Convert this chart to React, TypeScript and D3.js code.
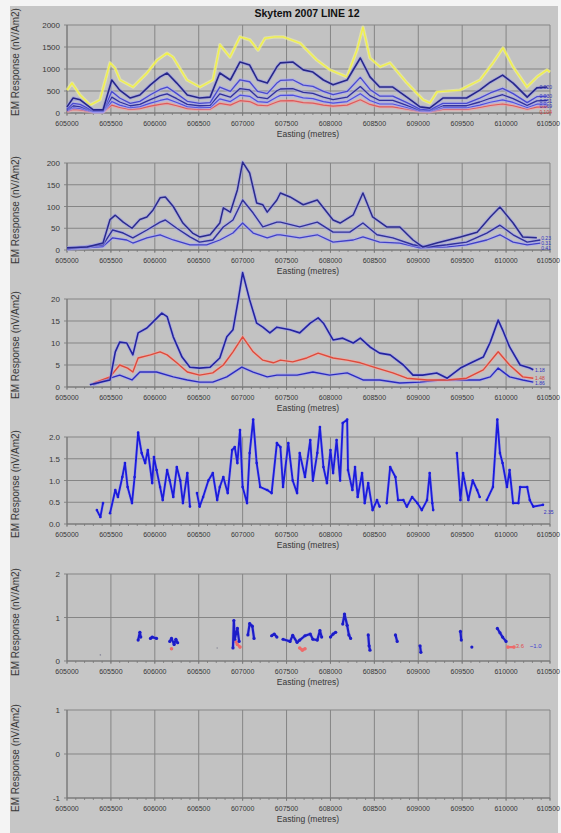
import React from "react";
import * as d3 from "d3";

const TITLE = "Skytem 2007 LINE 12";
const Y_TITLE = "EM Response (nV/Am2)";
const X_TITLE = "Easting (metres)";
const X_TICKS = [605000, 605500, 606000, 606500, 607000, 607500, 608000, 608500, 609000, 609500, 610000, 610500];

// Panel 1 (gate set 1)
const E1Y = [605000, 605057, 605148, 605262, 605376, 605490, 605547, 605604, 605752, 605911, 606025, 606139, 606207, 606366, 606514, 606662, 606742, 606856, 606970, 607084, 607175, 607255, 607369, 607460, 607653, 607847, 607995, 608188, 608302, 608370, 608450, 608564, 608678, 608872, 609054, 609134, 609213, 609475, 609703, 609851, 609965, 610079, 610238, 610352, 610466, 610500];
const YELLOW1 = [520, 680, 410, 180, 300, 1140, 1020, 750, 590, 910, 1200, 1360, 1270, 750, 590, 750, 1550, 1270, 1730, 1660, 1430, 1700, 1730, 1730, 1590, 1200, 980, 820, 1430, 1950, 1250, 1050, 1140, 680, 300, 230, 480, 520, 750, 1140, 1480, 1050, 590, 820, 980, 930];
const E1 = [605000, 605070, 605150, 605300, 605410, 605510, 605600, 605720, 605830, 605950, 606060, 606140, 606250, 606370, 606510, 606630, 606740, 606860, 606970, 607080, 607170, 607280, 607390, 607430, 607570, 607690, 607800, 607920, 608030, 608190, 608340, 608450, 608560, 608710, 608870, 609020, 609130, 609280, 609550, 609700, 609820, 609960, 610080, 610240, 610350, 610470];
const BLUE1A = [140, 340, 300, 70, 70, 750, 520, 340, 410, 640, 820, 910, 680, 410, 340, 360, 910, 750, 1160, 1090, 750, 680, 1050, 1140, 1160, 980, 930, 750, 640, 750, 1250, 820, 590, 590, 360, 140, 110, 340, 340, 520, 700, 860, 680, 360, 570, 590];
const BLUE1B = [90, 220, 195, 45, 45, 490, 340, 220, 265, 415, 535, 590, 440, 265, 220, 235, 590, 490, 755, 710, 490, 440, 680, 740, 755, 635, 605, 490, 415, 490, 810, 535, 385, 385, 235, 90, 70, 220, 220, 340, 455, 560, 440, 235, 370, 385];
const BLUE1C = [65, 165, 145, 35, 35, 360, 250, 165, 195, 305, 395, 435, 325, 195, 165, 175, 435, 360, 555, 525, 360, 325, 505, 545, 555, 470, 445, 360, 305, 360, 600, 395, 285, 285, 175, 65, 55, 165, 165, 250, 335, 415, 325, 175, 275, 285];
const BLUE1D = [50, 120, 105, 25, 25, 260, 180, 120, 145, 225, 285, 320, 240, 145, 120, 125, 320, 260, 405, 380, 260, 240, 365, 400, 405, 345, 325, 260, 225, 260, 440, 285, 205, 205, 125, 50, 40, 120, 120, 180, 245, 300, 240, 125, 200, 205];
const RED1 = [35, 80, 70, 20, 20, 180, 125, 80, 100, 155, 195, 220, 165, 100, 80, 85, 220, 180, 280, 260, 180, 165, 250, 275, 280, 235, 225, 180, 155, 180, 300, 195, 140, 140, 85, 35, 25, 80, 80, 125, 170, 205, 165, 85, 135, 140];
const LABELS1 = ["0.020", "0.030", "0.051", "0.069", "0.104"];

// Panel 2
const E2A = [605000, 605230, 605410, 605490, 605550, 605640, 605740, 605830, 605910, 605980, 606060, 606120, 606210, 606320, 606430, 606510, 606630, 606740, 606780, 606860, 606940, 607000, 607080, 607160, 607230, 607280, 607390, 607430, 607540, 607690, 607850, 608030, 608110, 608260, 608370, 608480, 608640, 608790, 608940, 609050, 609210, 609480, 609670, 609820, 609930, 610080, 610190, 610350];
const V2A = [5, 7, 16, 70, 80, 64, 50, 70, 76, 92, 120, 122, 100, 62, 39, 30, 35, 62, 97, 87, 138, 202, 177, 108, 104, 87, 115, 131, 122, 104, 115, 69, 62, 81, 131, 76, 53, 53, 23, 7, 16, 30, 41, 76, 99, 62, 30, 28];
const E2B = [605000, 605410, 605520, 605640, 605750, 605910, 606060, 606120, 606250, 606400, 606510, 606660, 606780, 606890, 607000, 607120, 607230, 607390, 607430, 607650, 607850, 608030, 608220, 608370, 608530, 608710, 608940, 609100, 609330, 609550, 609780, 609930, 610080, 610240, 610390];
const V2B = [3, 12, 46, 39, 28, 46, 64, 69, 50, 30, 18, 23, 53, 69, 115, 85, 53, 64, 64, 53, 64, 41, 41, 62, 35, 28, 12, 7, 12, 18, 39, 57, 35, 18, 23];
const E2C = [605000, 605410, 605520, 605680, 605750, 605910, 606060, 606210, 606400, 606590, 606740, 606890, 607000, 607120, 607280, 607390, 607430, 607650, 607850, 608030, 608260, 608370, 608560, 608790, 609020, 609330, 609550, 609780, 609930, 610080, 610240, 610390];
const V2C = [2, 8, 28, 23, 16, 28, 35, 23, 12, 12, 23, 39, 62, 39, 28, 35, 35, 28, 35, 18, 23, 30, 18, 16, 5, 7, 12, 23, 35, 18, 12, 16];
const LABELS2 = ["0.23", "0.31", "0.41"];

// Panel 3
const E3A = [605260, 605380, 605490, 605550, 605600, 605680, 605750, 605810, 605910, 605980, 606080, 606140, 606210, 606310, 606400, 606510, 606630, 606740, 606820, 606890, 606950, 607000, 607080, 607160, 607230, 607310, 607390, 607540, 607650, 607770, 607860, 607920, 608030, 608140, 608260, 608340, 608450, 608560, 608680, 608830, 608940, 609050, 609210, 609330, 609480, 609620, 609740, 609820, 609910, 609960, 610040, 610160, 610270, 610310];
const V3A = [0.5, 1.1, 1.6, 8, 10.2, 10, 7.3, 12.3, 13.4, 14.8, 16.8, 16, 11.4, 6.8, 4.5, 4.3, 4.5, 6.6, 11.4, 13, 19.8, 26, 19.8, 14.5, 13.6, 12.3, 13.6, 13, 12.3, 14.5, 15.7, 14.5, 10.7, 11.1, 10, 11.1, 9.1, 7.7, 7.3, 5, 2.7, 2.7, 3.2, 2, 4.3, 5.7, 6.8, 10.2, 15.2, 13, 9.1, 5, 4.3, 3.9];
const E3B = [605300, 605490, 605600, 605690, 605750, 605810, 605950, 606060, 606140, 606250, 606370, 606510, 606660, 606780, 606890, 607000, 607120, 607230, 607350, 607430, 607570, 607730, 607860, 608030, 608190, 608340, 608530, 608710, 608870, 609100, 609330, 609550, 609740, 609910, 610040, 610190, 610310];
const V3B = [0.9, 2.3, 5, 4.3, 3.4, 6.6, 7.3, 8, 7.3, 5.5, 3.4, 2.7, 3.2, 5, 8, 11.4, 8, 6.1, 5.5, 6.1, 5.7, 6.6, 7.7, 6.6, 6.1, 5.5, 4.3, 3.2, 2, 1.6, 1.6, 2, 3.9, 8, 5, 2.3, 2];
const E3C = [605300, 605490, 605600, 605740, 605830, 606020, 606210, 606370, 606510, 606660, 606820, 606990, 607120, 607280, 607390, 607430, 607620, 607800, 607990, 608190, 608370, 608560, 608790, 609020, 609250, 609480, 609700, 609820, 609910, 610040, 610190, 610310];
const V3C = [0.5, 2, 2.7, 1.6, 3.4, 3.4, 2.3, 1.6, 1.1, 1.1, 2.3, 4.5, 3.4, 2.3, 2.7, 2.7, 2.7, 3.4, 2.7, 3.2, 1.6, 1.6, 0.9, 1.1, 1.6, 1.6, 1.6, 2.3, 4.3, 2.3, 1.6, 1.1];
const LABELS3 = ["1.18", "1.48", "1.86"];

// Panel 4 (gaps = null)
const E4 = [605340, 605380, 605410, null, 605490, 605550, 605580, 605630, 605660, 605690, 605740, 605770, 605810, 605850, 605890, 605920, 605970, 605990, 606020, 606060, 606090, 606140, 606170, 606210, 606250, 606290, 606320, 606370, 606400, null, 606480, 606510, 606550, 606610, 606660, 606710, 606740, 606780, 606830, 606880, 606910, 606940, 606970, 607000, 607050, 607080, 607120, 607160, 607200, 607280, 607330, 607390, 607430, 607460, 607520, 607570, 607620, 607650, 607710, 607770, 607800, 607850, 607880, 607920, 607960, 608000, 608030, 608070, 608110, 608140, 608190, 608200, 608250, 608280, 608310, 608360, 608390, 608430, 608480, 608530, 608560, null, 608640, 608680, 608740, 608770, 608830, 608870, 608930, 608990, 609040, 609100, 609130, 609160, 609170, null, 609440, 609480, 609510, 609570, 609620, 609670, 609700, null, 609780, 609850, 609900, 609930, 609960, 610010, 610040, 610080, 610140, 610160, 610240, 610270, 610310, 610420];
const V4 = [0.32, 0.16, 0.48, null, 0.25, 0.78, 0.62, 1.08, 1.4, 0.85, 0.48, 1.08, 2.1, 1.63, 1.4, 1.7, 0.94, 1.54, 1.24, 0.85, 0.55, 1.24, 1.0, 0.62, 1.31, 1.0, 0.48, 1.17, 0.4, null, 0.71, 0.4, 0.62, 1.0, 1.17, 0.55, 0.85, 1.08, 0.71, 1.7, 1.77, 1.4, 2.16, 0.85, 0.48, 1.63, 2.4, 1.4, 0.85, 0.78, 0.71, 1.86, 1.77, 0.85, 1.86, 1.0, 0.71, 1.63, 1.08, 1.93, 1.0, 1.63, 2.23, 1.31, 0.94, 1.7, 1.17, 1.93, 1.0, 2.32, 2.4, 1.24, 0.78, 1.31, 0.62, 1.17, 0.48, 0.94, 0.32, 0.55, 0.4, null, 0.48, 1.31, 1.08, 0.55, 0.55, 0.4, 0.62, 0.48, 0.32, 0.55, 1.17, 0.48, 0.32, null, 1.63, 0.55, 1.17, 0.55, 1.0, 0.78, 0.62, null, 0.55, 0.85, 2.4, 1.63, 1.4, 0.85, 1.24, 0.48, 0.48, 0.85, 0.85, 0.55, 0.4, 0.44];
const LABEL4 = "2.35";

// Panel 5 (gaps = null)
const E5B = [605810, 605830, 605840, null, 605950, 605970, 606020, null, 606170, 606190, 606220, 606240, 606260, null, 606890, 606900, 606910, 606940, 606960, null, 607060, 607080, 607110, 607130, null, 607330, 607360, 607390, null, 607460, 607540, 607570, 607620, 607650, 607710, 607770, 607800, 607850, 607880, 607900, null, 608000, 608030, 608060, null, 608140, 608160, 608190, 608210, 608230, null, 608430, 608440, 608450, null, 608740, 608760, null, 609020, 609030, null, 609480, 609490, null, 609610, null, 609900, 609930, 609960, 610000];
const V5B = [0.48, 0.66, 0.55, null, 0.52, 0.55, 0.52, null, 0.45, 0.52, 0.38, 0.5, 0.42, null, 0.3, 0.93, 0.5, 0.75, 0.45, null, 0.6, 0.86, 0.8, 0.52, null, 0.58, 0.62, 0.55, null, 0.5, 0.45, 0.59, 0.43, 0.48, 0.58, 0.62, 0.5, 0.48, 0.7, 0.55, null, 0.55, 0.62, 0.66, null, 0.85, 1.08, 0.82, 0.6, 0.52, null, 0.6, 0.35, 0.25, null, 0.6, 0.45, null, 0.35, 0.2, null, 0.68, 0.48, null, 0.32, null, 0.75, 0.65, 0.55, 0.45];
const E5R = [606190, null, 606920, 606940, 606970, null, 607650, 607680, 607710, null, 610020, 610090];
const V5R = [0.28, null, 0.45, 0.38, 0.32, null, 0.3, 0.25, 0.28, null, 0.32, 0.32];
const E5G = [605380, null, 606710];
const V5G = [0.14, null, 0.3];
const LABEL5R = "3.6";
const LABEL5B = "~1.0";

const PANELS = [
  { top: 25, bottom: 113, domain: [0, 2000], ticks: [0, 500, 1000, 1500, 2000], fmt: (v: number) => String(v), ytc: 62 },
  { top: 163, bottom: 250, domain: [0, 200], ticks: [0, 50, 100, 150, 200], fmt: (v: number) => String(v), ytc: 210 },
  { top: 299, bottom: 387, domain: [0, 20], ticks: [0, 5, 10, 15, 20], fmt: (v: number) => String(v), ytc: 345 },
  { top: 437, bottom: 524, domain: [0, 2], ticks: [0, 0.5, 1, 1.5, 2], fmt: (v: number) => v.toFixed(1), ytc: 484 },
  { top: 574, bottom: 661, domain: [0, 2], ticks: [0, 1, 2], fmt: (v: number) => String(v), ytc: 622 },
  { top: 710, bottom: 798, domain: [-1, 1], ticks: [-1, 0, 1], fmt: (v: number) => String(v), ytc: 758 },
];

const FONT = "'Liberation Sans', Arial, sans-serif";
const xS = d3.scaleLinear().domain([605000, 610500]).range([67, 550]);

type Pt = [number | null, number | null];
const zip = (xs: (number | null)[], ys: (number | null)[]): Pt[] => xs.map((x, i) => [x, ys[i]]);

function Series({ xs, ys, y, color, width, halo, haloW, dots }: any) {
  const data = zip(xs, ys);
  const gen = d3
    .line<Pt>()
    .defined((d) => d[0] != null && d[1] != null)
    .x((d) => xS(d[0] as number))
    .y((d) => y(d[1] as number));
  const path = gen(data) || "";
  return (
    <g>
      {halo && <path d={path} fill="none" stroke={halo} strokeWidth={haloW || 3.5} strokeOpacity={0.55} strokeLinejoin="round" />}
      <path d={path} fill="none" stroke={color} strokeWidth={width} strokeLinejoin="round" />
      {dots &&
        data
          .filter((d) => d[0] != null && d[1] != null)
          .map((d, i) => <circle key={i} cx={xS(d[0] as number)} cy={y(d[1] as number)} r={dots} fill={color} />)}
    </g>
  );
}

function Panel({ p, children }: any) {
  const y = d3.scaleLinear().domain(p.domain).range([p.bottom, p.top]);
  const minor = d3.range(605000, 610501, 100);
  return (
    <g>
      <rect x={67} y={p.top} width={550 - 67} height={p.bottom - p.top} fill="#c2c2c2" />
      {p.ticks.map((t: number) => (
        <line key={"h" + t} x1={64} x2={550} y1={y(t)} y2={y(t)} stroke="#858585" strokeWidth={1} />
      ))}
      {X_TICKS.map((t) => (
        <line key={"v" + t} x1={xS(t)} x2={xS(t)} y1={p.top} y2={p.bottom + 3} stroke="#858585" strokeWidth={1} />
      ))}
      {minor.map((t) => (
        <line key={"m" + t} x1={xS(t)} x2={xS(t)} y1={p.bottom} y2={p.bottom + 2} stroke="#777" strokeWidth={0.8} />
      ))}
      <line x1={67} x2={550} y1={p.bottom} y2={p.bottom} stroke="#777" strokeWidth={1} />
      <line x1={67} x2={67} y1={p.top} y2={p.bottom} stroke="#777" strokeWidth={1} />
      {p.ticks.map((t: number) => (
        <text key={"yl" + t} x={60} y={y(t) + 3} textAnchor="end" fontSize={8} fill="#383838" fontFamily={FONT}>
          {p.fmt(t)}
        </text>
      ))}
      {X_TICKS.map((t, i) => {
        const lastTick = i === X_TICKS.length - 1;
        return (
          <text
            key={"xl" + t}
            x={lastTick ? 560 : xS(t)}
            y={p.bottom + 13}
            textAnchor={lastTick ? "end" : "middle"}
            fontSize={7}
            fill="#383838"
            fontFamily={FONT}
          >
            {String(t)}
          </text>
        );
      })}
      <text x={308} y={p.bottom + 24} textAnchor="middle" fontSize={8.5} fill="#383838" fontFamily={FONT}>
        {X_TITLE}
      </text>
      <text
        transform={`translate(19,${p.ytc}) rotate(-90)`}
        textAnchor="middle"
        fontSize={10}
        fill="#383838"
        fontFamily={FONT}
      >
        {Y_TITLE}
      </text>
      {children(y)}
    </g>
  );
}

// end-of-line labels, spread vertically so they don't collide
function EndLabels({ items, y, x }: any) {
  const pos = items.map((it: any) => y(it.v) + 2);
  const order = pos.map((_: number, i: number) => i).sort((a: number, b: number) => pos[a] - pos[b]);
  const placed: number[] = [];
  let prev = -Infinity;
  order.forEach((i: number) => {
    const p = Math.max(pos[i], prev + 5.2);
    placed[i] = p;
    prev = p;
  });
  return (
    <g>
      {items.map((it: any, i: number) => (
        <text key={i} x={x} y={placed[i]} fontSize={5} fill={it.color} fontFamily={FONT}>
          {it.text}
        </text>
      ))}
    </g>
  );
}

export default function App() {
  const W = 561;
  const H = 833;
  const last = (a: number[]) => a[a.length - 1];
  return (
    <svg width={W} height={H} style={{ position: "absolute", left: 0, top: 0, display: "block" }}>
      <defs>
        <filter id="soft" x="-5%" y="-5%" width="110%" height="110%">
          <feGaussianBlur stdDeviation="0.45" />
        </filter>
      </defs>
      <rect x={0} y={0} width={W} height={H} fill="#f4f4f4" />
      <rect x={10} y={6} width={W - 13} height={H - 6} fill="#c6c6c6" />
      <text x={307} y={17} textAnchor="middle" fontSize={10.5} fontWeight="bold" fill="#111" fontFamily={FONT}>
        {TITLE}
      </text>

      <Panel p={PANELS[0]}>
        {(y: any) => (
          <g>
            <g filter="url(#soft)">
              <Series xs={E1Y} ys={YELLOW1} y={y} color="#f2f24a" width={1.4} halo="#f6f6a0" haloW={3.5} />
              <Series xs={E1} ys={RED1} y={y} color="#e05a5a" width={1.2} halo="#f0a0a0" />
              <Series xs={E1} ys={BLUE1D} y={y} color="#5050e0" width={1.2} halo="#a8a8f4" />
              <Series xs={E1} ys={BLUE1C} y={y} color="#30309a" width={1.3} halo="#a0a0ee" />
              <Series xs={E1} ys={BLUE1B} y={y} color="#4848d0" width={1.3} halo="#a8a8f4" />
              <Series xs={E1} ys={BLUE1A} y={y} color="#28288a" width={1.6} halo="#9898e8" />
            </g>
            <EndLabels
              x={xS(610380)}
              y={y}
              items={[
                { text: LABELS1[0], v: last(BLUE1A), color: "#3030b0" },
                { text: LABELS1[1], v: last(BLUE1B), color: "#3030b0" },
                { text: LABELS1[2], v: last(BLUE1C), color: "#3030b0" },
                { text: LABELS1[3], v: last(BLUE1D), color: "#3030b0" },
                { text: LABELS1[4], v: last(RED1), color: "#d04040" },
              ]}
            />
          </g>
        )}
      </Panel>

      <Panel p={PANELS[1]}>
        {(y: any) => (
          <g>
            <g filter="url(#soft)">
              <Series xs={E2C} ys={V2C} y={y} color="#4040c8" width={1.3} halo="#a8a8f4" />
              <Series xs={E2B} ys={V2B} y={y} color="#30309a" width={1.4} halo="#a0a0ee" />
              <Series xs={E2A} ys={V2A} y={y} color="#2a2a8e" width={1.5} halo="#9a9ae8" />
            </g>
            <EndLabels
              x={xS(610400)}
              y={y}
              items={[
                { text: LABELS2[0], v: last(V2A), color: "#3030c0" },
                { text: LABELS2[1], v: last(V2B), color: "#3030c0" },
                { text: LABELS2[2], v: last(V2C), color: "#3030c0" },
              ]}
            />
          </g>
        )}
      </Panel>

      <Panel p={PANELS[2]}>
        {(y: any) => (
          <g>
            <g filter="url(#soft)">
              <Series xs={E3C} ys={V3C} y={y} color="#2c2cc0" width={1.4} halo="#a0a0f0" />
              <Series xs={E3B} ys={V3B} y={y} color="#e04a3a" width={1.4} halo="#f4a8a0" />
              <Series xs={E3A} ys={V3A} y={y} color="#2424a0" width={1.6} halo="#9c9cec" />
            </g>
            <EndLabels
              x={xS(610330)}
              y={y}
              items={[
                { text: LABELS3[0], v: last(V3A), color: "#3030c0" },
                { text: LABELS3[1], v: last(V3B), color: "#d04040" },
                { text: LABELS3[2], v: last(V3C), color: "#3030c0" },
              ]}
            />
          </g>
        )}
      </Panel>

      <Panel p={PANELS[3]}>
        {(y: any) => (
          <g>
            <g filter="url(#soft)">
              <Series xs={E4} ys={V4} y={y} color="#1a1adc" width={1.8} halo="#8c8cf0" haloW={3} dots={1.3} />
            </g>
            <text x={xS(610430)} y={y(0.22)} fontSize={5} fill="#3030c0" fontFamily={FONT}>
              {LABEL4}
            </text>
          </g>
        )}
      </Panel>

      <Panel p={PANELS[4]}>
        {(y: any) => (
          <g>
            <g filter="url(#soft)">
              <Series xs={E5G} ys={V5G} y={y} color="#8a8a9a" width={1} dots={0.8} />
              <Series xs={E5R} ys={V5R} y={y} color="#ee6a6a" width={2.4} dots={1.8} />
              <Series xs={E5B} ys={V5B} y={y} color="#1c1cc8" width={2.2} halo="#9090ee" haloW={3.5} dots={1.6} />
            </g>
            <text x={xS(610110)} y={y(0.3)} fontSize={6} fill="#e05050" fontFamily={FONT}>
              {LABEL5R}
            </text>
            <text x={xS(610270)} y={y(0.3)} fontSize={6} fill="#4040d0" fontFamily={FONT}>
              {LABEL5B}
            </text>
          </g>
        )}
      </Panel>

      <Panel p={PANELS[5]}>{() => null}</Panel>
    </svg>
  );
}
